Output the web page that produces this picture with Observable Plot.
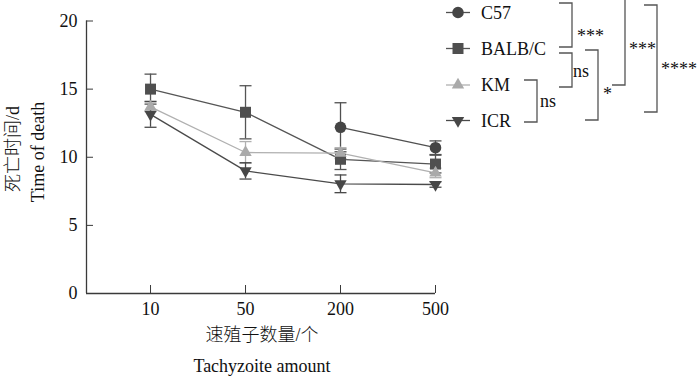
<!DOCTYPE html>
<html><head><meta charset="utf-8">
<script src="https://cdn.jsdelivr.net/npm/d3@7"></script>
<script src="https://cdn.jsdelivr.net/npm/@observablehq/plot@0.6"></script>
<style>
html,body{margin:0;padding:0;background:#fff;}
svg{font-family:"Liberation Serif","Times New Roman","Noto Sans CJK SC",serif;}
</style></head>
<body><div id="chart"></div>
<script>
// ---- data ----
const doses = ["10", "50", "200", "500"];
const seriesNames = ["C57", "BALB/C", "KM", "ICR"];
const c57Mean  = [null, null, 12.2, 10.7];
const c57Sd    = [null, null, 1.8, 0.5];
const balbMean = [15.0, 13.3, 9.85, 9.5];
const balbSd   = [1.1, 1.95, 0.75, 0.65];
const kmMean   = [13.7, 10.35, 10.3, 8.85];
const kmSd     = [0.35, 0.8, 0.4, 0.35];
const icrMean  = [13.15, 9.0, 8.05, 8.0];
const icrSd    = [0.95, 0.6, 0.65, 0.2];
const yTicks = [0, 5, 10, 15, 20];
const comparisons = [
  {a: "C57", b: "BALB/C", label: "***"},
  {a: "BALB/C", b: "KM", label: "ns"},
  {a: "KM", b: "ICR", label: "ns"},
  {a: "BALB/C", b: "ICR", label: "*"},
  {a: "C57", b: "KM", label: "***"},
  {a: "C57", b: "ICR", label: "****"}
];

const styles = {
  "C57":    {color: "#454545", line: "#505050", symbol: "circle", r: 5.8, rotate: 0},
  "BALB/C": {color: "#4f4f4f", line: "#555555", symbol: "square", r: 6.2, rotate: 0},
  "KM":     {color: "#aaaaaa", line: "#b0b0b0", symbol: "triangle", r: 4.6, rotate: 0},
  "ICR":    {color: "#474747", line: "#4a4a4a", symbol: "triangle", r: 4.6, rotate: 180}
};
const means = {"C57": c57Mean, "BALB/C": balbMean, "KM": kmMean, "ICR": icrMean};
const sds = {"C57": c57Sd, "BALB/C": balbSd, "KM": kmSd, "ICR": icrSd};

const rows = [];
for (const s of seriesNames) {
  doses.forEach((d, i) => {
    if (means[s][i] != null) rows.push({series: s, xi: i, dose: d, y: means[s][i], sd: sds[s][i]});
  });
}

const capSymbol = {draw(ctx) { ctx.moveTo(-6, 0); ctx.lineTo(6, 0); }};

const marks = [];
for (const s of seriesNames) {
  const st = styles[s];
  const d = rows.filter(r => r.series === s);
  marks.push(Plot.ruleX(d, {x: "xi", y1: r => r.y - r.sd, y2: r => r.y + r.sd, stroke: st.line, strokeWidth: 1.3}));
  marks.push(Plot.dot(d, {x: "xi", y: r => r.y + r.sd, symbol: capSymbol, stroke: st.line, strokeWidth: 1.3, r: 3}));
  marks.push(Plot.dot(d, {x: "xi", y: r => r.y - r.sd, symbol: capSymbol, stroke: st.line, strokeWidth: 1.3, r: 3}));
  marks.push(Plot.line(d, {x: "xi", y: "y", stroke: st.line, strokeWidth: 1.3}));
}
for (const s of seriesNames) {
  const st = styles[s];
  const d = rows.filter(r => r.series === s);
  marks.push(Plot.dot(d, {x: "xi", y: "y", symbol: st.symbol, r: st.r, fill: st.color, stroke: "none", rotate: st.rotate}));
}

const axisColor = "#3a3a3a";
marks.push(Plot.axisY(yTicks, {tickSize: 0, tickPadding: 9, fontSize: 18, color: "#111", label: null}));
marks.push(Plot.axisY(yTicks, {tickSize: -7, text: null, stroke: axisColor, label: null}));
marks.push(Plot.axisX([0,1,2,3], {tickSize: 0, tickPadding: 9, fontSize: 18, color: "#111", tickFormat: i => doses[i], label: null}));
marks.push(Plot.axisX([0,1,2,3], {tickSize: -8, text: null, stroke: axisColor, label: null}));
marks.push(Plot.ruleY([0], {stroke: axisColor, strokeWidth: 1.3}));
marks.push(Plot.ruleX([-0.674], {y1: 0, y2: 20, stroke: axisColor, strokeWidth: 1.3}));

const chart = Plot.plot({
  width: 700, height: 378,
  marginLeft: 86, marginRight: 265, marginTop: 20.5, marginBottom: 85,
  x: {domain: [-0.674, 3], axis: null, label: null},
  y: {domain: [0, 20], axis: null, label: null},
  style: {fontFamily: '"Liberation Serif","Noto Sans CJK SC",serif', background: "#fff", overflow: "visible"},
  marks
});
document.getElementById("chart").append(chart);

const svg = d3.select(chart);
const font = '"Liberation Serif","Noto Sans CJK SC",serif';
function addText(sel, t, size, anchor) {
  return sel.append("text").attr("text-anchor", anchor).attr("dominant-baseline", "central")
    .attr("font-size", size).attr("font-family", font).attr("fill", "#111").text(t);
}
// axis titles
addText(svg, "死亡时间/d", 18, "middle").attr("transform", "translate(13,149) rotate(-90)").attr("font-weight", 300);
addText(svg, "Time of death", 18, "middle").attr("transform", "translate(38,152) rotate(-90)");
addText(svg, "速殖子数量/个", 18, "middle").attr("x", 262).attr("y", 335).attr("font-weight", 300);
addText(svg, "Tachyzoite amount", 18, "middle").attr("x", 262).attr("y", 366);

// legend
const legendY = {"C57": 12.5, "BALB/C": 48.5, "KM": 85, "ICR": 120.5};
seriesNames.forEach(s => {
  const st = styles[s];
  const g = svg.append("g").attr("transform", `translate(458,${legendY[s]})`);
  g.append("line").attr("x1", -12).attr("x2", 12).attr("stroke", st.line).attr("stroke-width", 1.3);
  const sym = {circle: d3.symbolCircle, square: d3.symbolSquare, triangle: d3.symbolTriangle}[st.symbol];
  g.append("path").attr("d", d3.symbol(sym, st.r * st.r * Math.PI)()).attr("fill", st.color)
    .attr("transform", `rotate(${st.rotate})`);
  addText(g, s, 18, "start").attr("x", 23);
});

// significance brackets
const br = [
  {x: 572, y1: 3, y2: 47, tx: 577, ty: 32},
  {x: 572, y1: 53, y2: 87, tx: 573, ty: 71},
  {x: 537, y1: 80, y2: 122, tx: 540, ty: 101},
  {x: 598, y1: 50, y2: 120, tx: 603, ty: 90},
  {x: 625, y1: -2, y2: 85, tx: 629, ty: 45},
  {x: 657, y1: 5, y2: 112, tx: 661, ty: 65}
];
comparisons.forEach((c, i) => {
  const b = br[i];
  svg.append("path").attr("d", `M${b.x-13},${b.y1}H${b.x}V${b.y2}H${b.x-13}`)
    .attr("fill", "none").attr("stroke", "#555").attr("stroke-width", 1.3);
  const isNs = c.label === "ns";
  addText(svg, c.label, 18, "start").attr("x", b.tx).attr("y", isNs ? b.ty : b.ty + 4);
});
</script></body></html>
